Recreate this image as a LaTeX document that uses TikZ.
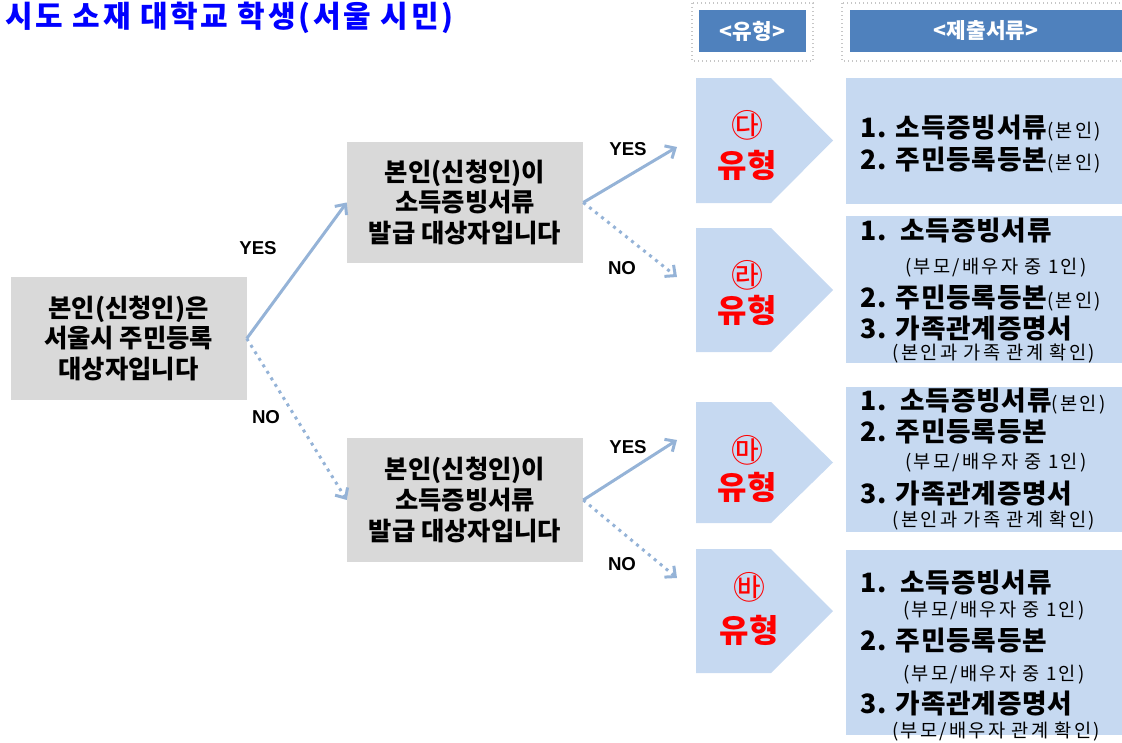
\documentclass[tikz,border=0pt]{standalone}
\usepackage{fontspec}
\setmainfont{Noto Sans CJK KR}
\newfontfamily\smallfam[LetterSpace=12]{Noto Sans CJK KR}
\newfontfamily\titlefam[LetterSpace=9]{Noto Sans CJK KR}
\newfontfamily\mainfam[LetterSpace=3]{Noto Sans CJK KR}
\newfontfamily\latfam{Liberation Sans}
\usetikzlibrary{arrows.meta}
\definecolor{titleblue}{RGB}{0,0,255}
\definecolor{hblue}{RGB}{79,129,189}
\definecolor{lblue}{RGB}{198,217,241}
\definecolor{gboxc}{RGB}{217,217,217}
\definecolor{arrc}{RGB}{149,179,215}
\definecolor{tred}{RGB}{255,0,0}
\newcommand\mtxt{\mainfam\fontsize{20}{20}\selectfont\bfseries}
\newcommand\stxt{\smallfam\fontsize{14}{14}\selectfont\mdseries}
\newcommand\chevron[2]{\fill[lblue] (696,#1) -- (771,#1) -- (833,{(#1+#2)/2}) -- (771,#2) -- (696,#2) -- cycle;}
\begin{document}
\begin{tikzpicture}[x=0.75pt,y=-0.75pt,
  qbox/.style={fill=gboxc, minimum width=177pt, align=center, inner sep=0pt,
    font=\fontsize{19}{23}\selectfont\bfseries},
  hbox/.style={fill=hblue, text=white, minimum height=31.5pt, inner sep=0pt,
    font=\fontsize{16}{16}\selectfont\bfseries},
  lab/.style={font=\latfam\bfseries\fontsize{14}{14}\selectfont},
  arrowln/.style={draw=arrc, line width=2.25pt, -{Straight Barb[length=6pt,width=11pt]}},
  dotln/.style={arrowln, dash pattern=on 2.25pt off 3.5pt},
  circ/.style={text=tred, font=\fontsize{24}{24}\selectfont},
  yh/.style={text=tred, font=\fontsize{24}{24}\selectfont\bfseries},
  mline/.style={anchor=west, inner sep=0pt, font=\mtxt},
  sline/.style={inner sep=0pt, font=\stxt}]
\useasboundingbox (0,0) rectangle (1122,743);
% title
\node[anchor=west, inner sep=0pt, text=titleblue, font=\titlefam\fontsize{22.5}{22.5}\selectfont\bfseries] (title) at (5,18) {시도 소재 대학교 학생(서울 시민)};
% headers
\draw[gray!45, dotted, line width=1pt] (692,3) rectangle (813,61);
\draw[gray!45, dotted, line width=1pt] (842,3) rectangle (1125,61);
\node[hbox, minimum width=80.25pt] (h1) at (752.5,31) {<유형>};
\node[hbox, minimum width=204pt] (h2) at (986,31) {<제출서류>};
% question boxes
\node[qbox, minimum height=92.25pt] (q1) at (128.5,338.5) {본인(신청인)은\\서울시 주민등록\\대상자입니다};
\node[qbox, minimum height=90.75pt] (q2) at (465,202.5) {본인(신청인)이\\소득증빙서류\\발급 대상자입니다};
\node[qbox, minimum height=93pt] (q3) at (465,500) {본인(신청인)이\\소득증빙서류\\발급 대상자입니다};
% targets
\coordinate (t1) at (677,147);
\coordinate (t2) at (677,277);
\coordinate (t3) at (677,440);
\coordinate (t4) at (677,578);
% connectors
\draw[arrowln] (q1.east) -- (q2.west);
\draw[dotln] (q1.east) -- (q3.west);
\draw[arrowln] (q2.east) -- (t1);
\draw[dotln] (q2.east) -- (t2);
\draw[arrowln] (q3.east) -- (t3);
\draw[dotln] (q3.east) -- (t4);
\node[lab] (y1) at (258,248) {YES};
\node[lab] (n1) at (266,417) {NO};
\node[lab] (y2) at (628,149) {YES};
\node[lab] (n2) at (622,268) {NO};
\node[lab] (y3) at (628,447) {YES};
\node[lab] (n3) at (622,564) {NO};
% chevrons
\chevron{78}{203}
\chevron{228}{352}
\chevron{402}{523}
\chevron{549}{673}
\node[circ] (c1) at (747,125) {㉰};
\node[yh] (u1) at (747,165) {유형};
\node[circ] (c2) at (747,275) {㉱};
\node[yh] (u2) at (747,310) {유형};
\node[circ] (c3) at (747,450) {㉲};
\node[yh] (u3) at (747,487) {유형};
\node[circ] (c4) at (749,587) {㉳};
\node[yh] (u4) at (749,630) {유형};
% document boxes
\fill[lblue] (846,78) rectangle (1122,204);
\fill[lblue] (846,216) rectangle (1122,363);
\fill[lblue] (846,387) rectangle (1122,532);
\fill[lblue] (846,550) rectangle (1122,735);
% box 1
\node[mline] (d1a) at (860,128) {1. 소득증빙서류{\stxt(본인)}};
\node[mline] (d1b) at (860,160) {2. 주민등록등본{\stxt(본인)}};
% box 2
\node[mline] (d2a) at (860,231) {1.\ \ 소득증빙서류};
\node[sline] (d2b) at (996,268) {(부모/배우자 중 1인)};
\node[mline] (d2c) at (860,298) {2. 주민등록등본{\stxt(본인)}};
\node[mline] (d2d) at (860,329) {3. 가족관계증명서};
\node[sline] (d2e) at (994,354) {(본인과 가족 관계 확인)};
% box 3
\node[mline] (d3a) at (860,401) {1.\ \ 소득증빙서류{\stxt(본인)}};
\node[mline] (d3b) at (860,432) {2. 주민등록등본};
\node[sline] (d3c) at (996,463) {(부모/배우자 중 1인)};
\node[mline] (d3d) at (860,494) {3. 가족관계증명서};
\node[sline] (d3e) at (994,521) {(본인과 가족 관계 확인)};
% box 4
\node[mline] (d4a) at (860,583) {1.\ \ 소득증빙서류};
\node[sline] (d4b) at (994,611) {(부모/배우자 중 1인)};
\node[mline] (d4c) at (860,641) {2. 주민등록등본};
\node[sline] (d4d) at (994,675) {(부모/배우자 중 1인)};
\node[mline] (d4e) at (860,704) {3. 가족관계증명서};
\node[sline] (d4f) at (996,732) {(부모/배우자 관계 확인)};
\end{tikzpicture}
\end{document}
